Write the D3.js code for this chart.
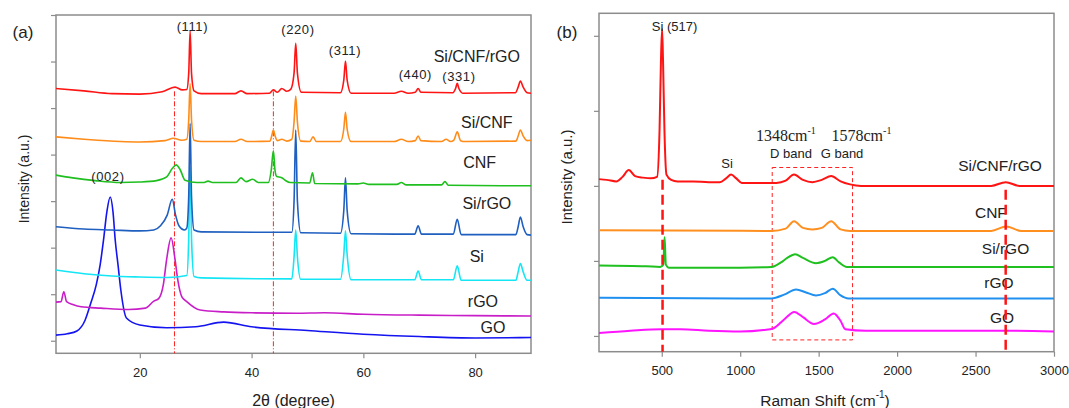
<!DOCTYPE html>
<html>
<head>
<meta charset="utf-8">
<script src="https://cdn.jsdelivr.net/npm/d3@7"></script>
<style>
  body { margin: 0; background: #fff; }
  svg { display: block; font-family: "Liberation Sans", Arial, sans-serif; }
</style>
</head>
<body>
<svg id="chart" width="1069" height="408"></svg>
<script>
// (a) XRD patterns, [2theta, intensity (a.u., offset)]
const xrdSiCnfRgo = [[5, 5.42], [10, 5.37], [15, 5.31], [20, 5.30], [24, 5.35], [26.3, 5.45], [27.6, 5.39], [28.4, 5.40], [28.75, 5.75], [29.0, 6.66], [29.25, 5.75], [29.7, 5.37], [31, 5.31], [37, 5.31], [38.1, 5.37], [39.2, 5.31], [43.2, 5.32], [43.9, 5.39], [44.6, 5.34], [45.4, 5.42], [46.3, 5.36], [47.0, 5.40], [47.6, 5.75], [47.9, 6.39], [48.2, 5.75], [48.9, 5.34], [55.9, 5.33], [56.5, 5.60], [56.8, 6.01], [57.1, 5.60], [57.8, 5.32], [65.5, 5.32], [66.8, 5.36], [68, 5.32], [69.3, 5.34], [69.8, 5.42], [70.3, 5.34], [76.0, 5.33], [76.5, 5.42], [76.8, 5.53], [77.1, 5.42], [77.8, 5.32], [87.2, 5.33], [87.7, 5.45], [88.1, 5.58], [88.6, 5.45], [89.3, 5.33], [90, 5.32]];
const xrdSiCnf = [[5, 4.38], [10, 4.33], [16.5, 4.28], [20, 4.27], [24.5, 4.30], [26, 4.35], [27.5, 4.31], [28.4, 4.33], [28.75, 4.75], [29.0, 5.52], [29.25, 4.75], [29.7, 4.31], [31, 4.28], [37, 4.28], [38.1, 4.33], [39.2, 4.28], [43.3, 4.29], [43.6, 4.40], [43.9, 4.53], [44.2, 4.40], [44.6, 4.30], [45.4, 4.33], [46.3, 4.29], [47.2, 4.33], [47.6, 4.70], [47.9, 5.26], [48.2, 4.70], [48.8, 4.29], [50.4, 4.28], [51.0, 4.38], [51.6, 4.28], [55.9, 4.28], [56.5, 4.55], [56.8, 4.91], [57.1, 4.55], [57.8, 4.28], [65.5, 4.28], [66.8, 4.33], [68, 4.28], [69.3, 4.30], [69.8, 4.40], [70.3, 4.30], [74.0, 4.28], [74.8, 4.33], [75.6, 4.28], [76.2, 4.31], [76.8, 4.49], [77.4, 4.30], [78.2, 4.28], [87.3, 4.29], [87.7, 4.40], [88.1, 4.53], [88.6, 4.40], [89.3, 4.30], [90, 4.31]];
const xrdCnf = [[5, 3.56], [8, 3.50], [12, 3.44], [16.5, 3.40], [20, 3.41], [23, 3.44], [24.8, 3.52], [25.8, 3.70], [26.5, 3.78], [27.2, 3.68], [28.1, 3.45], [30.2, 3.40], [31.5, 3.40], [32.2, 3.43], [33, 3.40], [37.2, 3.40], [38.1, 3.50], [39, 3.42], [40.2, 3.47], [41.2, 3.40], [43.0, 3.40], [43.5, 3.65], [43.9, 4.08], [44.2, 3.65], [44.5, 3.53], [45.3, 3.51], [46.0, 3.45], [46.9, 3.40], [50.4, 3.39], [50.9, 3.61], [51.3, 3.38], [59, 3.37], [60.0, 3.39], [61, 3.36], [66.0, 3.36], [66.8, 3.40], [67.6, 3.35], [74.0, 3.35], [74.6, 3.42], [75.2, 3.34], [90, 3.33]];
const xrdSiRgo = [[5, 2.45], [10, 2.40], [15, 2.38], [20, 2.36], [22.5, 2.38], [23.7, 2.47], [24.9, 2.70], [25.8, 3.04], [26.4, 2.70], [27.0, 2.47], [28.0, 2.38], [28.4, 2.42], [28.75, 3.10], [29.0, 4.67], [29.25, 3.10], [29.7, 2.38], [31, 2.34], [47.2, 2.33], [47.6, 3.00], [47.9, 4.53], [48.2, 3.00], [48.8, 2.32], [55.9, 2.31], [56.5, 2.80], [56.8, 3.50], [57.1, 2.80], [57.8, 2.30], [69.2, 2.29], [69.8, 2.47], [70.4, 2.29], [76.1, 2.29], [76.8, 2.61], [77.5, 2.28], [87.3, 2.28], [87.7, 2.45], [88.1, 2.66], [88.6, 2.45], [89.3, 2.28], [90, 2.27]];
const xrdSi = [[5, 1.52], [10, 1.44], [15, 1.39], [20, 1.37], [25, 1.36], [28.4, 1.40], [28.75, 2.20], [29.0, 3.73], [29.25, 2.20], [29.7, 1.38], [31, 1.35], [47.2, 1.33], [47.6, 1.80], [47.9, 2.38], [48.2, 1.80], [48.8, 1.32], [55.9, 1.32], [56.5, 1.85], [56.8, 2.36], [57.1, 1.85], [57.8, 1.31], [69.2, 1.31], [69.8, 1.50], [70.4, 1.31], [76.1, 1.31], [76.8, 1.61], [77.5, 1.30], [87.3, 1.30], [87.7, 1.48], [88.1, 1.66], [88.6, 1.48], [89.3, 1.30], [90, 1.30]];
const xrdRgo = [[5, 0.83], [5.9, 0.84], [6.4, 1.05], [6.9, 0.84], [8, 0.78], [9.5, 0.73], [13, 0.70], [18, 0.67], [21, 0.70], [22.5, 0.85], [23.4, 0.91], [24.2, 1.20], [24.8, 1.75], [25.6, 2.21], [26.3, 1.75], [26.8, 1.30], [27.5, 0.95], [28.4, 0.84], [30.8, 0.66], [35, 0.62], [40, 0.60], [48, 0.59], [53, 0.60], [60, 0.57], [70, 0.55], [80, 0.54], [90, 0.53]];
const xrdGo = [[5, 0.12], [7, 0.15], [8.75, 0.21], [10.2, 0.44], [11.2, 0.80], [12.2, 1.20], [12.9, 1.63], [13.5, 2.16], [14.1, 2.77], [14.7, 3.09], [15.2, 2.77], [15.6, 2.16], [16.1, 1.63], [16.6, 1.09], [17.6, 0.49], [20, 0.34], [24.8, 0.28], [30, 0.30], [35, 0.40], [40, 0.30], [50, 0.22], [60, 0.14], [70, 0.09], [80, 0.06], [90, 0.07]];

const xrdSeries = [xrdSiCnfRgo, xrdSiCnf, xrdCnf, xrdSiRgo, xrdSi, xrdRgo, xrdGo];
const xrdNames = ["Si/CNF/rGO", "Si/CNF", "CNF", "Si/rGO", "Si", "rGO", "GO"];
const xrdTicks = [20, 40, 60, 80];
const xrdGuides = [26.2, 43.9];

// (b) Raman spectra, [shift cm-1, intensity (a.u., offset)]
const ramanSiCnfRgo = [[100, 2.09], [150, 2.08], [210, 2.06], [250, 2.12], [290, 2.21], [330, 2.13], [380, 2.11], [430, 2.10], [470, 2.12], [486, 2.75], [495, 3.68], [502, 4.09], [508, 3.68], [517, 2.75], [530, 2.15], [560, 2.08], [600, 2.06], [700, 2.06], [800, 2.05], [870, 2.05], [910, 2.10], [942, 2.15], [975, 2.10], [1010, 2.04], [1230, 2.04], [1290, 2.07], [1343, 2.15], [1400, 2.08], [1460, 2.05], [1520, 2.08], [1580, 2.13], [1640, 2.06], [1700, 2.02], [1770, 2.00], [2600, 2.00], [2692, 2.05], [2780, 2.00], [3000, 2.00]];
const ramanCnf = [[100, 1.41], [1200, 1.40], [1290, 1.43], [1343, 1.53], [1400, 1.44], [1460, 1.42], [1520, 1.44], [1580, 1.53], [1640, 1.42], [1700, 1.40], [2600, 1.40], [2695, 1.46], [2790, 1.40], [3000, 1.40]];
const ramanSiRgo = [[100, 0.94], [400, 0.93], [490, 0.92], [510, 0.95], [518, 1.32], [526, 0.95], [545, 0.91], [1000, 0.91], [1200, 0.92], [1260, 0.98], [1300, 1.04], [1350, 1.09], [1400, 1.04], [1483, 0.97], [1540, 1.00], [1590, 1.05], [1630, 0.98], [1680, 0.92], [3000, 0.92]];
const ramanRgo = [[100, 0.51], [1000, 0.50], [1200, 0.50], [1280, 0.55], [1356, 0.62], [1420, 0.58], [1483, 0.54], [1540, 0.57], [1590, 0.63], [1640, 0.54], [1690, 0.50], [3000, 0.50]];
const ramanGo = [[100, 0.04], [300, 0.07], [500, 0.09], [620, 0.09], [800, 0.07], [1000, 0.06], [1150, 0.08], [1210, 0.10], [1280, 0.22], [1345, 0.32], [1400, 0.25], [1470, 0.16], [1540, 0.22], [1596, 0.30], [1640, 0.20], [1670, 0.09], [1800, 0.07], [2700, 0.07], [3000, 0.06]];

const ramanSeries = [ramanSiCnfRgo, ramanCnf, ramanSiRgo, ramanRgo, ramanGo];
const ramanNames = ["Si/CNF/rGO", "CNF", "Si/rGO", "rGO", "GO"];
const ramanTicks = [500, 1000, 1500, 2000, 2500, 3000];
const ramanGuides = [505, 2692];
const bandBox = [1204, 1716];

const xrdColors = ["#ff1414", "#ff8c1a", "#1fbf1f", "#1f5fbf", "#14e6f5", "#c81ec8", "#1414f0"];
const ramanColors = ["#ff1414", "#ff9020", "#1fc01f", "#2090f0", "#ff14ff"];
const frameColor = "#8c8c8c";

const svg = d3.select("#chart");

const xA = d3.scaleLinear().domain([5, 90]).range([56, 531]);
const yA = d3.scaleLinear().domain([-0.27, 7]).range([353.3, 15]);
const xB = d3.scaleLinear().domain([100, 3000]).range([599, 1054]);
const yB = d3.scaleLinear().domain([-0.21, 4.3]).range([351.7, 13.3]);

function drawFrame(x, y, xTicks, yTicks) {
  const [x0, x1] = x.range();
  const [y0, y1] = y.range();

  // X axis
  const gx = svg
    .append("g")
    .attr("transform", `translate(0,${y0})`)
    .call(
      d3.axisBottom(x).tickValues(xTicks).tickFormat(d3.format("d")).tickSize(5).tickPadding(9)
    );
  gx.select(".domain").remove();
  gx.selectAll("line").attr("stroke", frameColor).attr("stroke-width", 1.2);
  gx.attr("font-family", null).attr("font-size", 13);
  gx.selectAll("text").attr("fill", "#222");

  // Y axis (no labels)
  const gy = svg
    .append("g")
    .attr("transform", `translate(${x0},0)`)
    .call(d3.axisLeft(y).tickValues(yTicks).tickSize(5).tickFormat(""));
  gy.select(".domain").remove();
  gy.selectAll("line").attr("stroke", frameColor).attr("stroke-width", 1.2);

  svg
    .append("rect")
    .attr("x", x0)
    .attr("y", y1)
    .attr("width", x1 - x0)
    .attr("height", y0 - y1)
    .attr("fill", "none")
    .attr("stroke", frameColor)
    .attr("stroke-width", 1.5);
}

function drawSeries(series, colors, x, y, width) {
  const line = d3
    .line()
    .x((d) => x(d[0]))
    .y((d) => y(d[1]))
    .curve(d3.curveMonotoneX);
  // lower curves first so the upper ones sit on top
  const order = series.map((d, i) => i).reverse();
  svg
    .append("g")
    .selectAll("path")
    .data(order)
    .join("path")
    .attr("d", (i) => line(series[i]))
    .attr("fill", "none")
    .attr("stroke", (i) => colors[i])
    .attr("stroke-width", width)
    .attr("stroke-linejoin", "round");
}

function addText(px, py, txt, size, anchor = "middle") {
  return svg
    .append("text")
    .attr("x", px)
    .attr("y", py)
    .attr("text-anchor", anchor)
    .attr("dominant-baseline", "central")
    .attr("fill", "#222")
    .style("font-size", size + "px")
    .text(txt);
}

// ---------- (a) ----------
drawFrame(xA, yA, xrdTicks, d3.range(0, 8));

xrdGuides.forEach((g) => {
  svg
    .append("line")
    .attr("x1", xA(g))
    .attr("x2", xA(g))
    .attr("y1", yA(5.36))
    .attr("y2", yA(-0.27))
    .attr("stroke", "#ff2020")
    .attr("stroke-width", 1)
    .attr("stroke-dasharray", "5,2,1,2");
});

drawSeries(xrdSeries, xrdColors, xA, yA, 1.6);

// peak indices
addText(xA(29.4), yA(6.76), "(111)", 13).style("letter-spacing", "0.6px");
addText(xA(48.3), yA(6.68), "(220)", 13).style("letter-spacing", "0.6px");
addText(xA(56.7), yA(6.23), "(311)", 13).style("letter-spacing", "0.6px");
addText(xA(69.3), yA(5.73), "(440)", 13).style("letter-spacing", "0.6px");
addText(xA(77.1), yA(5.67), "(331)", 13).style("letter-spacing", "0.6px");
addText(xA(14.3), yA(3.52), "(002)", 13).style("letter-spacing", "0.6px");

// sample names
const xrdLabelPos = [[80.3, 6.10], [82.1, 4.69], [80.8, 3.83], [82.1, 2.94], [80.3, 1.80], [81.4, 0.85], [83.2, 0.28]];
xrdNames.forEach((n, i) => addText(xA(xrdLabelPos[i][0]), yA(xrdLabelPos[i][1]), n, 16));

addText(23, 32, "(a)", 17);
svg
  .append("text")
  .attr("transform", "translate(24,179) rotate(-90)")
  .attr("text-anchor", "middle")
  .attr("dominant-baseline", "central")
  .attr("fill", "#222")
  .style("font-size", "14px")
  .text("Intensity (a.u.)");
addText(293.5, 400, "2θ (degree)", 16);

// ---------- (b) ----------
drawFrame(xB, yB, ramanTicks, d3.range(0, 5));

svg
  .append("rect")
  .attr("x", xB(bandBox[0]))
  .attr("y", yB(2.245))
  .attr("width", xB(bandBox[1]) - xB(bandBox[0]))
  .attr("height", yB(-0.053) - yB(2.245))
  .attr("fill", "none")
  .attr("stroke", "#ff2020")
  .attr("stroke-width", 1)
  .attr("stroke-dasharray", "4,3");

drawSeries(ramanSeries, ramanColors, xB, yB, 2);

addText(xB(582), yB(4.12), "Si (517)", 13);
addText(xB(916), yB(2.30), "Si", 13);
addText(xB(1324), yB(2.43), "D band", 13);
addText(xB(1649), yB(2.43), "G band", 13);

const bandText = [["1348", 1100], ["1578", 1582]];
bandText.forEach(([v, pos]) => {
  const t = svg
    .append("text")
    .attr("x", xB(pos))
    .attr("y", yB(2.68))
    .attr("dominant-baseline", "central")
    .attr("fill", "#222")
    .style("font-family", "'Liberation Serif', 'Times New Roman', serif")
    .style("font-size", "16px");
  t.append("tspan").text(v + "cm");
  t.append("tspan").attr("dy", -5).style("font-size", "10px").text("-1");
});

const ramanLabelPos = [[2656, 2.27], [2598, 1.65], [2691, 1.16], [2649, 0.71], [2669, 0.24]];
ramanNames.forEach((n, i) => addText(xB(ramanLabelPos[i][0]), yB(ramanLabelPos[i][1]), n, 15.5));

// vertical guides drawn over the names, as in the figure
ramanGuides.forEach((g, i) => {
  svg
    .append("line")
    .attr("x1", xB(g))
    .attr("x2", xB(g))
    .attr("y1", yB(i === 0 ? 2.08 : 1.95))
    .attr("y2", yB(-0.21))
    .attr("stroke", "#ff1414")
    .attr("stroke-width", 2.5)
    .attr("stroke-dasharray", "10,5");
});

addText(567, 32, "(b)", 17);
svg
  .append("text")
  .attr("transform", "translate(566,177) rotate(-90)")
  .attr("text-anchor", "middle")
  .attr("dominant-baseline", "central")
  .attr("fill", "#222")
  .style("font-size", "15px")
  .text("Intensity (a.u.)");

const xt = svg
  .append("text")
  .attr("x", 825)
  .attr("y", 400)
  .attr("text-anchor", "middle")
  .attr("dominant-baseline", "central")
  .attr("fill", "#222")
  .style("font-size", "15.5px");
xt.append("tspan").text("Raman Shift (cm");
xt.append("tspan").attr("dy", -6).style("font-size", "10px").text("-1");
xt.append("tspan").attr("dy", 6).text(")");
</script>
</body>
</html>
